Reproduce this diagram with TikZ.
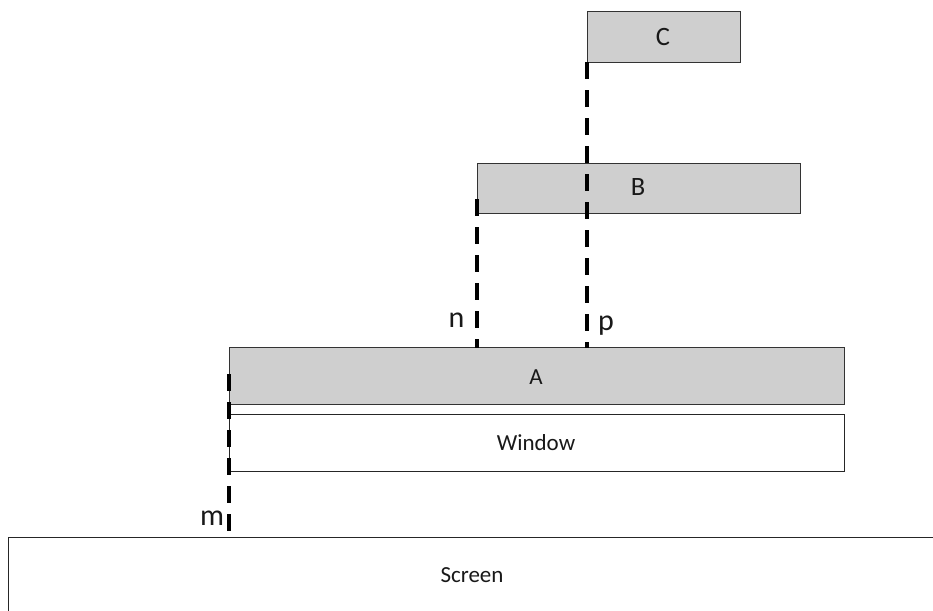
\documentclass[tikz,border=0pt]{standalone}
\usepackage{fontspec}
\setmainfont{Carlito}
\begin{document}
\begin{tikzpicture}[x=1pt,y=-1pt,
  layer/.style={draw=black!80, line width=0.9pt, fill=black!19},
  plain/.style={draw=black!85, line width=0.9pt, fill=white},
  tag/.style={font=\fontsize{23}{25}\selectfont, text=black!90},
  bigtag/.style={font=\fontsize{26.5}{28}\selectfont, text=black!90},
  gap/.style={font=\fontsize{30}{32}\selectfont, text=black!90, anchor=base, inner sep=0pt},
  link/.style={line width=4.8pt, dash pattern=on 17pt off 11pt, black}]
\useasboundingbox (0,0) rectangle (933,610);
\begin{scope}
\clip (0,0) rectangle (933,610);
% screen extends past the page on the right and bottom
\draw[plain] (8,537) rectangle (950,630);
\node[tag] (screen) at (472,575) {Screen};
\end{scope}

% stacked layers
\draw[plain] (229,414) rectangle (844,471);
\node[tag] (win) at (536,443) {Window};
\draw[layer] (229,347) rectangle (844,404);
\node[tag] (a) at (536,377) {A};
\draw[layer] (477,163) rectangle (800,213);
\node[bigtag] (b) at (638,187) {B};
\draw[layer] (587,11) rectangle (740,62);
\node[bigtag] (c) at (663,37) {C};

% offsets between layers
\coordinate (pt) at (587,62);
\coordinate (pb) at (587,348);
\coordinate (nt) at (477,199);
\coordinate (nb) at (477,348);
\coordinate (mt) at (229,374);
\coordinate (mb) at (229,533);
\draw[link] (pt) -- (pb);
\draw[link] (nt) -- (nb);
\draw[link] (mt) -- (mb);
\node[gap] (p) at (606,330) {p};
\node[gap] (n) at (456.5,327) {n};
\node[gap] (m) at (212,525) {m};
\end{tikzpicture}
\end{document}
